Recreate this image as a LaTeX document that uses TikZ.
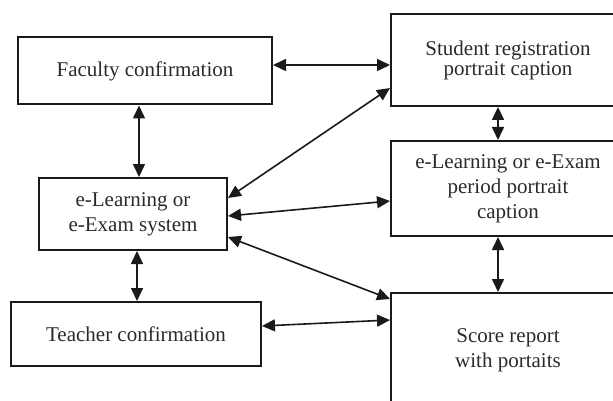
\documentclass[tikz,border=0pt]{standalone}
\usepackage{fontspec}
\setmainfont{Liberation Serif}
\usetikzlibrary{arrows.meta}
\definecolor{txt}{HTML}{2A2A2A}
\definecolor{ln}{HTML}{1A1A1A}
\begin{document}
\begin{tikzpicture}[x=1pt,y=-1pt,
  box/.style={draw=ln,line width=2pt,rectangle,inner sep=0pt,align=center,text=txt,
    font=\fontsize{21}{25}\selectfont},
  link/.style={draw=ln,line width=1.6pt,{Triangle[length=13pt,width=12pt]}-{Triangle[length=13pt,width=12pt]}}]
\useasboundingbox (0,0) rectangle (613,401);
\clip (0,0) rectangle (613,401);
\node[box,minimum width=254pt,minimum height=67pt] (fac) at (145,71) {Faculty confirmation};
\node[box,minimum width=234pt,minimum height=92pt,font=\fontsize{21}{20}\selectfont] (stu) at (508,60) {Student registration\\portrait caption};
\node[box,minimum width=234pt,minimum height=95pt] (per) at (508,188.5) {e-Learning or e-Exam\\period portrait\\caption};
\node[box,minimum width=188pt,minimum height=72pt] (sys) at (133,214) {e-Learning or\\e-Exam system};
\node[box,minimum width=250pt,minimum height=64pt] (tea) at (136,334) {Teacher confirmation};
\node[box,minimum width=234pt,minimum height=114pt] (sco) at (508,350) {Score report\\with portaits};
\draw[link] ([yshift=6pt]fac.east) -- ([yshift=6pt]fac.east -| stu.west);
\draw[link] ([xshift=-6pt]fac.south) -- ([xshift=-6pt]fac.south |- sys.north);
\draw[link] ([yshift=16pt]sys.east) -- ([yshift=-28pt]stu.west);
\draw[link] ([yshift=-2pt]sys.east) -- ([yshift=-12.5pt]per.west);
\draw[link] ([yshift=-23pt]sys.east) -- ([yshift=-7pt]sco.north west);
\draw[link] ([xshift=4pt]sys.south) -- ([xshift=4pt]sys.south |- tea.north);
\draw[link] ([yshift=8pt]tea.east) -- ([yshift=30pt]sco.west);
\draw[link] ([xshift=-10pt]stu.south) -- ([xshift=-10pt]stu.south |- per.north);
\draw[link] ([xshift=-10pt]per.south) -- ([xshift=-10pt]per.south |- sco.north);
\end{tikzpicture}
\end{document}
